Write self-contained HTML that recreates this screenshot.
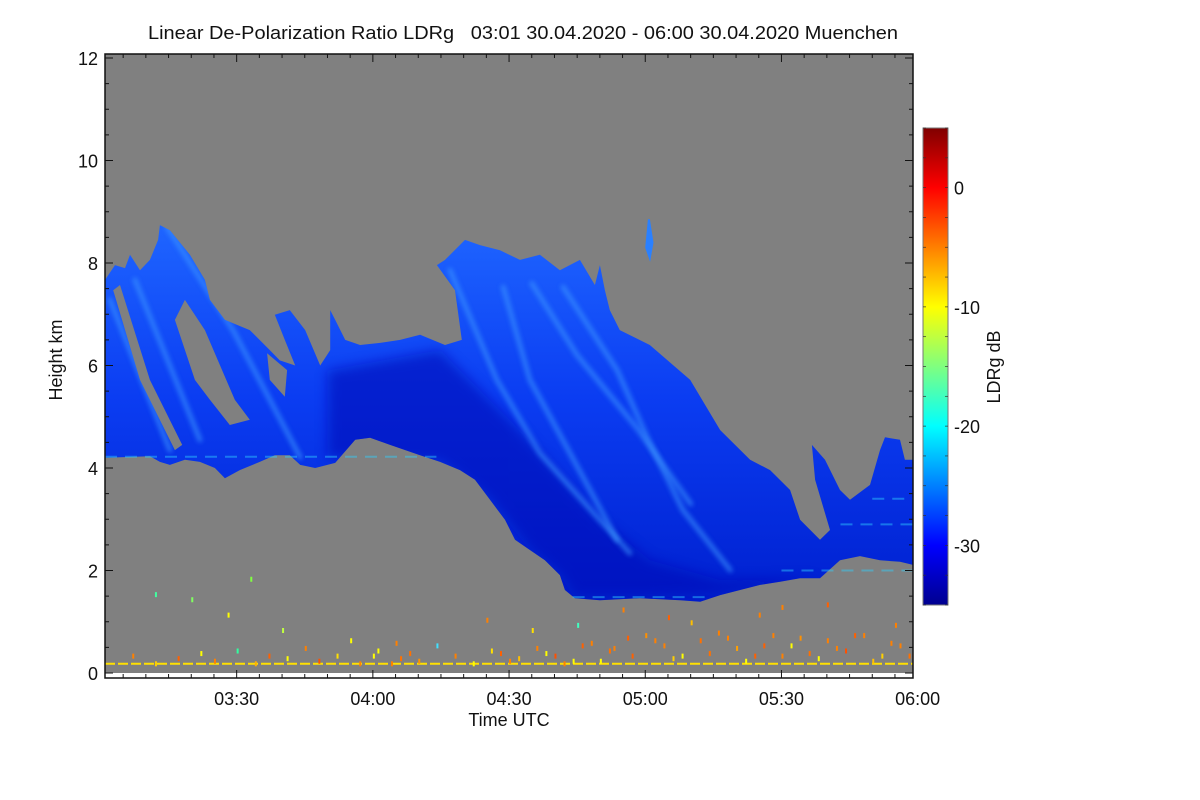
<!DOCTYPE html>
<html><head><meta charset="utf-8"><style>
html,body{margin:0;padding:0;background:#fff;}
svg{display:block;font-family:"Liberation Sans",Arial,sans-serif;}
</style></head><body>
<svg id="chart" width="1200" height="800" viewBox="0 0 1200 800">
<defs id="defs">
<linearGradient id="jet" x1="0" y1="1" x2="0" y2="0">
<stop offset="0" stop-color="#00008f"/><stop offset="0.125" stop-color="#0000ff"/>
<stop offset="0.375" stop-color="#00ffff"/><stop offset="0.625" stop-color="#ffff00"/>
<stop offset="0.875" stop-color="#ff0000"/><stop offset="1" stop-color="#800000"/>
</linearGradient>
<linearGradient id="cloudg" gradientUnits="userSpaceOnUse" x1="0" y1="230" x2="0" y2="600">
<stop offset="0" stop-color="#1e64ff"/><stop offset="0.45" stop-color="#0b3df2"/><stop offset="1" stop-color="#0020d0"/>
</linearGradient>
<filter id="blur" x="-20%" y="-20%" width="140%" height="140%"><feGaussianBlur stdDeviation="2.5"/></filter>
<filter id="blur2" x="-20%" y="-20%" width="140%" height="140%"><feGaussianBlur stdDeviation="6"/></filter>
<clipPath id="plotclip"><rect x="105" y="54" width="808" height="619"/></clipPath>
</defs>
<text x="148" y="39" font-size="18" textLength="750" lengthAdjust="spacingAndGlyphs" fill="#111" style="white-space:pre">Linear De-Polarization Ratio LDRg   03:01 30.04.2020 - 06:00 30.04.2020 Muenchen</text>
<rect x="105" y="54" width="808" height="619" fill="#808080"/>
<g id="marks" clip-path="url(#plotclip)"></g>
<g id="axes"></g>
<rect x="923" y="128" width="25" height="477" fill="url(#jet)" stroke="#777" stroke-width="1"/>
<g id="cbticks"></g>
<text transform="translate(62,360) rotate(-90)" font-size="18" text-anchor="middle" fill="#111">Height km</text>
<text x="509" y="726" font-size="18" text-anchor="middle" fill="#111">Time UTC</text>
<text transform="translate(1000,367) rotate(-90)" font-size="18" text-anchor="middle" fill="#111">LDRg dB</text>
</svg>
<script>
// time in minutes after 03:00, height in km
const xTickLabels = ["03:30","04:00","04:30","05:00","05:30","06:00"];
const xTickMinutes = [30,60,90,120,150,180];
const yTickValues = [0,2,4,6,8,10,12];
const cbTickValues = [0,-10,-20,-30];
const cloudT = [1,10.9,13.1,15.3,18.6,21.9,25.2,27.4,30.7,35.1,38.4,41.7,44,47.3,51.7,56.1,59.4,63.8,70.4,74.8,79.2,82.5,85.8,89.1,91.3,94.6,97.9,101.2,102.3,104.5,110,118.8,127.7,132.1,136.5,140.9,145.3,149.7,154.1,158.5,162.9,167.3,171.7,176.1,179,
  179,177.2,176.1,172.8,171.7,169.5,165.1,162.9,159.6,156.7,157.4,160.7,158.5,154.1,151.9,147.5,143.1,136.5,129.9,121,114.4,112.2,111.1,110,108.9,105.6,101.2,96.8,92.4,88,83.6,80.3,75.9,74.1,78.1,79.6,75.9,70.4,66,61.6,57.2,53.9,51.7,50.6,50.6,48.4,45.1,41.7,38.4,40.6,42.9,39.5,37.3,32.9,27.4,24.1,23,19.7,15.3,13.1,12.7,10.9,8.7,6.5,5.4,3.2,1];
const cloudH = [4.2,4.23,4.12,4.06,4.16,4.12,4.0,3.8,3.96,4.12,4.25,4.25,4.06,4.0,4.1,4.55,4.59,4.45,4.25,4.12,3.96,3.77,3.38,2.99,2.6,2.4,2.2,1.91,1.62,1.46,1.42,1.46,1.42,1.39,1.52,1.62,1.72,1.78,1.85,1.85,2.2,2.28,2.2,2.17,2.11,
  4.16,4.16,4.55,4.6,4.35,3.67,3.38,3.57,4.16,4.45,3.77,2.79,2.6,2.99,3.57,3.96,4.16,4.74,5.72,6.4,6.69,7.08,7.47,7.96,7.57,8.06,7.86,8.16,8.06,8.25,8.35,8.45,8.06,7.96,7.47,6.5,6.4,6.6,6.5,6.44,6.4,6.5,6.89,7.08,6.3,6.0,6.69,7.08,6.99,6.5,6.0,6.1,6.3,6.69,6.89,7.28,7.67,8.16,8.64,8.74,8.45,8.06,7.86,8.16,7.9,7.96,7.67];
const holeT = [[2.8,4.3,10.9,18,16.4,8.7],[16.4,18.6,23,29.6,32.9,28.5,24.1,20.8],[36.7,41.1,40.6,37.3]];
const holeH = [[7.47,7.57,5.72,4.45,4.35,5.72],[6.89,7.28,6.69,5.33,4.94,4.84,5.33,5.72],[6.24,5.91,5.39,5.72]];
const coreT = [50,74.8,92.4,110,121,136.5,158.5,136.5,118.8,104.5,101.2,94.6,85.8,74.8,50];
const coreH = [5.9,6.3,4.74,2.99,2.2,1.81,1.85,1.52,1.46,1.46,1.91,2.4,3.38,4.12,4.2];
const streakT = [[77,87.3,96.8,116.6],[88.7,94.6,103.4,113.8],[101.9,113.8,120.4,128.3,138.7],[14.7,29.2,44],[2.1,15.3],[7.6,21.9],[95,105,118,130]];
const streakH = [[7.86,5.72,4.29,2.34],[7.53,5.72,4.29,2.6],[7.53,5.91,4.6,3.18,2.01],[8.7,6.69,4.21],[7.28,4.35],[7.67,4.55],[7.6,6.2,4.8,3.3]];
const bandT0 = [1,104,150,163,170];
const bandT1 = [74,134,179,179,179];
const bandH = [4.22,1.48,2.0,2.9,3.4];
const blobT = [120.8,121.6,121,120.2]; const blobH = [8.85,8.4,8.1,8.3];
const dotT = [7,12,17,22,25,30,34,37,41,45,48,52,57,61,66,70,74,78,82,88,92,96,100,104,108,112,116,120,124,128,132,136,140,144,148,152,156,160,164,168,172,176,20,28,40,55,85,105,115,130,145,160,175,12,33,65,95,125,150,110,113,117,122,126,134,138,142,146,150,154,158,162,166,170,174,178,98,102,106,86,90,60,64,68];
const dotH = [0.3,0.15,0.25,0.35,0.2,0.4,0.15,0.3,0.25,0.45,0.2,0.3,0.15,0.4,0.25,0.2,0.5,0.3,0.15,0.35,0.25,0.45,0.3,0.2,0.55,0.4,0.65,0.7,0.5,0.3,0.6,0.75,0.45,0.3,0.7,0.5,0.35,0.6,0.4,0.7,0.3,0.5,1.4,1.1,0.8,0.6,1.0,0.9,1.2,0.95,1.1,1.3,0.9,1.5,1.8,0.55,0.8,1.05,1.25,0.2,0.45,0.3,0.6,0.25,0.35,0.65,0.2,0.5,0.3,0.65,0.25,0.45,0.7,0.2,0.55,0.3,0.35,0.15,0.5,0.4,0.2,0.3,0.15,0.35];
const dotC = ["#ff8000","#ffd000","#ff6000","#ffff00","#ff8000","#30ffa0","#ffb000","#ff6000","#ffff00","#ff8000","#ff5000","#ffe000","#ff8000","#ffff00","#ff7000","#ff9000","#40e0ff","#ff8000","#ffff00","#ff6000","#ffc000","#ff8000","#ff5000","#ffff00","#ff8000","#ff7000","#ff6000","#ff9000","#ff8000","#ffff00","#ff7000","#ff8000","#ffa000","#ff6000","#ff8000","#ffff00","#ff7000","#ff8000","#ff5000","#ff8000","#ffd000","#ff8000","#80ff60","#ffff00","#c0ff40","#ffff00","#ff8000","#40ffc0","#ff8000","#ffc000","#ff8000","#ff6000","#ff8000","#40ffa0","#80ff40","#ff8000","#ffe000","#ff6000","#ff8000","#ffff00","#ff8000","#ff6000","#ff8000","#ffd000","#ff7000","#ff8000","#ffff00","#ff6000","#ff8000","#ff9000","#ffff00","#ff8000","#ff6000","#ffc000","#ff8000","#ff7000","#ffff00","#ff8000","#ff6000","#ffe000","#ff8000","#ffff00","#ff8000","#ff7000"];

const X = t => 105 + (t-1)*4.54;
const Y = h => 673 - 51.25*h;
const NS = "http://www.w3.org/2000/svg";
const marks = document.getElementById('marks');
function mk(tag, attrs, parent){const e=document.createElementNS(NS,tag);for(const k in attrs)e.setAttribute(k,attrs[k]);parent.appendChild(e);return e;}
const pts = (T,H)=>T.map((t,i)=>X(t).toFixed(1)+","+Y(H[i]).toFixed(1)).join(" ");

// clip for interior detail = cloud outline
const cp = mk('clipPath',{id:'cloudclip'},document.getElementById('defs'));
mk('polygon',{points:pts(cloudT,cloudH)},cp);

let p = mk('polygon',{points:pts(cloudT,cloudH),fill:'url(#cloudg)'},marks);


const inner = mk('g',{'clip-path':'url(#cloudclip)'},marks);
p = mk('polygon',{points:pts(coreT,coreH),fill:'#0010b8',opacity:'0.6',filter:'url(#blur2)'},inner);


streakT.forEach((T,i)=>{
  const e = mk('polyline',{points:pts(T,streakH[i]),fill:'none',stroke:'#3c98ff','stroke-width':'5','stroke-linecap':'round',opacity:'0.6',filter:'url(#blur)'},inner);
  
  
});
holeT.forEach((T,i)=>{
  const e = mk('polygon',{points:pts(T,holeH[i]),fill:'#808080'},marks);
  
  
});
p = mk('polygon',{points:pts(blobT,blobH),fill:'#2a80ff',stroke:'#2a80ff','stroke-width':'2'},marks);


bandT0.forEach((t,i)=>{
  const e = mk('line',{x1:X(t),y1:Y(bandH[i]),x2:X(bandT1[i]),y2:Y(bandH[i]),stroke:'#30d0ff','stroke-width':'2',opacity:'0.45','stroke-dasharray':'12 8'},marks);
  
  
});
p = mk('line',{x1:X(1),y1:Y(0.18),x2:X(181),y2:Y(0.18),stroke:'#ffe000','stroke-width':'2','stroke-dasharray':'10 3'},marks);


dotT.forEach((t,i)=>{
  const e = mk('rect',{x:X(t),y:Y(dotH[i])-4,width:2,height:5,fill:dotC[i]},marks);
  
  
});

const ax = document.getElementById('axes');
let fr = mk('rect',{x:105,y:54,width:808,height:624,fill:'none',stroke:'#111','stroke-width':'1.5'},ax);


for(let m=5;m<=180;m+=5){
  const maj = m%30===0, L = maj?8:4, x=X(m);
  if(x>912) continue;
  mk('line',{x1:x,y1:678,x2:x,y2:678-L,stroke:'#111'},ax);
  mk('line',{x1:x,y1:54,x2:x,y2:54+L,stroke:'#111'},ax);
}
xTickMinutes.forEach((m,i)=>{
  const t = mk('text',{x:X(m),y:705,'font-size':'18','text-anchor':'middle',fill:'#111'},ax);
  t.textContent = xTickLabels[i];
  
  
});
for(let h=0;h<=12;h+=0.5){
  const maj = h%2===0, L = maj?8:4, y=Y(h);
  mk('line',{x1:105,y1:y,x2:105+L,y2:y,stroke:'#111'},ax);
  mk('line',{x1:913,y1:y,x2:913-L,y2:y,stroke:'#111'},ax);
}
yTickValues.forEach(v=>{
  const t = mk('text',{x:98,y:Y(v)+7,'font-size':'18','text-anchor':'end',fill:'#111'},ax);
  t.textContent = v;
  
  
});
const cb = document.getElementById('cbticks');
const CY = v => 605 - (v+35)/40*477;
for(let v=-35; v<=5; v+=2.5){
  mk('line',{x1:923,y1:CY(v),x2:926,y2:CY(v),stroke:'#333','stroke-width':'0.7'},cb);
  mk('line',{x1:948,y1:CY(v),x2:945,y2:CY(v),stroke:'#333','stroke-width':'0.7'},cb);
}
cbTickValues.forEach(v=>{
  const t = mk('text',{x:954,y:CY(v)+7,'font-size':'18',fill:'#111'},cb);
  t.textContent = v;
  
  
});
</script>
</body></html>
